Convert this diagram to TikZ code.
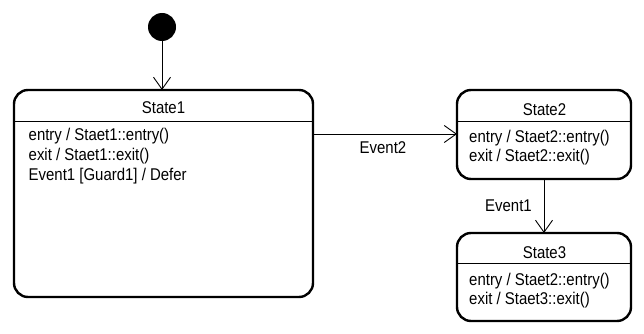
\documentclass[tikz,border=0pt]{standalone}
\usepackage{fontspec}
\setmainfont{Liberation Sans}
\newfontfamily\diagfont[FakeStretch=0.88]{Liberation Sans}
\usetikzlibrary{arrows.meta}
\begin{document}
\begin{tikzpicture}[x=1pt,y=-1pt,
  every node/.style={font=\diagfont\fontsize{17}{20}\selectfont},
  statebox/.style={draw, line width=2.4pt, rounded corners=14pt, inner sep=0pt, outer sep=0pt},
  divider/.style={line width=0.8pt},
  title/.style={inner sep=0pt, anchor=base},
  body/.style={anchor=base west, inner sep=0pt},
  trans/.style={line width=0.9pt, -{Straight Barb[length=12pt,width=17pt,line width=0.9pt]}},
  tlabel/.style={inner sep=0pt, anchor=base}]
  \useasboundingbox[fill=white] (0,0) rectangle (644,334);

  % initial pseudo-state
  \node[circle, fill=black, minimum size=28pt, inner sep=0pt, outer sep=0pt] (init) at (162,27) {};

  % states
  \node[statebox, minimum width=299pt, minimum height=207pt] (s1) at (163.5,193.5) {};
  \node[statebox, minimum width=174pt, minimum height=89pt] (s2) at (544,134.5) {};
  \node[statebox, minimum width=174pt, minimum height=88pt] (s3) at (544,277) {};

  % compartment dividers
  \draw[divider] (s1.west |- 0,121) -- (s1.east |- 0,121);
  \draw[divider] (s2.west |- 0,121.5) -- (s2.east |- 0,121.5);
  \draw[divider] (s3.west |- 0,263) -- (s3.east |- 0,263);

  % names
  \node[title] (n1) at (163.5,113.3) {State1};
  \node[title] (n2) at (544.5,115) {State2};
  \node[title] (n3) at (544.5,258) {State3};

  % internal activities of State1
  \node[body] (b1a) at (28.5,140) {entry / Staet1::entry()};
  \node[body] (b1b) at (28.5,160) {exit / Staet1::exit()};
  \node[body] (b1c) at (28.5,180) {Event1 [Guard1] / Defer};
  % internal activities of State2
  \node[body] (b2a) at (469,142.3) {entry / Staet2::entry()};
  \node[body] (b2b) at (469,161.7) {exit / Staet2::exit()};
  % internal activities of State3
  \node[body] (b3a) at (469,285.3) {entry / Staet2::entry()};
  \node[body] (b3b) at (469,304.7) {exit / Staet3::exit()};

  % transitions
  \coordinate (e2a) at (s1.east |- 0,134);
  \coordinate (e2b) at (s2.west |- 0,134);
  \draw[trans] (init.south) -- (init.south |- s1.north);
  \draw[trans] (e2a) -- (e2b);
  \draw[trans] (s2.south) -- (s3.north);

  \node[tlabel] (l2) at (383,153.3) {Event2};
  \node[tlabel] (l1) at (508.5,211.7) {Event1};
\end{tikzpicture}
\end{document}
